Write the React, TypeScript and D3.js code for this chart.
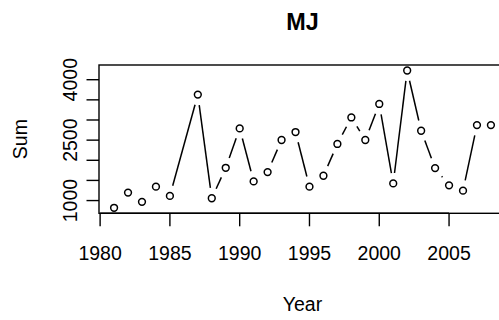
import * as d3 from "d3";
import { useEffect, useRef } from "react";

// yearly sums (no record for 1986)
const years = [1981, 1982, 1983, 1984, 1985, 1987, 1988, 1989, 1990, 1991, 1992, 1993, 1994, 1995, 1996, 1997, 1998, 1999, 2000, 2001, 2002, 2003, 2004, 2005, 2006, 2007, 2008];
const sums = [820, 1197, 968, 1345, 1116, 3630, 1057, 1813, 2792, 1476, 1707, 2504, 2701, 1345, 1616, 2405, 3063, 2504, 3398, 1426, 4229, 2733, 1806, 1377, 1246, 2873, 2873];

const xTicks = [1980, 1985, 1990, 1995, 2000, 2005];
const yTicks = [1000, 1500, 2000, 2500, 3000, 3500, 4000];
// R drops labels that would overlap, only these survive
const yTickLabels = [1000, 2500, 4000];

const title = "MJ";
const xTitle = "Year";
const yTitle = "Sum";

function App() {
    const ref = useRef<SVGSVGElement>(null);

    useEffect(() => {
        const width = 499,
            height = 320;
        const left = 99,
            right = 506,
            top = 65,
            bottom = 213.3;
        const font = "Liberation Sans, Arial, Helvetica, sans-serif";
        const fs = 19.5;

        const svg = d3.select(ref.current);
        svg.selectAll("*").remove();
        svg.attr("width", width).attr("height", height);

        // R style 4% padding on both axes
        const xExt = d3.extent(years) as [number, number];
        const yExt = d3.extent(sums) as [number, number];
        const xPad = (xExt[1] - xExt[0]) * 0.04;
        const yPad = (yExt[1] - yExt[0]) * 0.04;

        const x = d3.scaleLinear().domain([xExt[0] - xPad, xExt[1] + xPad]).range([left, right]);
        const y = d3.scaleLinear().domain([yExt[0] - yPad, yExt[1] + yPad]).range([bottom, top]);

        const data = years.map((yr, i) => ({ px: x(yr), py: y(sums[i]) }));

        // type = "b": segments with a gap around each point
        const gap = 10.5;
        const segs = d3.pairs(data).filter(([a, b]) => Math.hypot(b.px - a.px, b.py - a.py) > 2 * gap).map(([a, b]) => {
            const d = Math.hypot(b.px - a.px, b.py - a.py);
            const ux = (b.px - a.px) / d,
                uy = (b.py - a.py) / d;
            return [a.px + ux * gap, a.py + uy * gap, b.px - ux * gap, b.py - uy * gap];
        });

        svg.append("g")
            .selectAll("line")
            .data(segs)
            .join("line")
            .attr("x1", d => d[0])
            .attr("y1", d => d[1])
            .attr("x2", d => d[2])
            .attr("y2", d => d[3])
            .attr("stroke", "black")
            .attr("stroke-width", 1.5);

        svg.append("g")
            .selectAll("circle")
            .data(data)
            .join("circle")
            .attr("cx", d => d.px)
            .attr("cy", d => d.py)
            .attr("r", 3.4)
            .attr("fill", "none")
            .attr("stroke", "black")
            .attr("stroke-width", 1.5);

        // box
        svg.append("rect")
            .attr("x", left)
            .attr("y", top)
            .attr("width", right - left)
            .attr("height", bottom - top)
            .attr("fill", "none")
            .attr("stroke", "black")
            .attr("stroke-width", 1.4);

        // x axis
        const gx = svg.append("g");
        gx.append("line")
            .attr("x1", x(xTicks[0]))
            .attr("x2", x(xTicks[xTicks.length - 1]))
            .attr("y1", bottom)
            .attr("y2", bottom)
            .attr("stroke", "black")
            .attr("stroke-width", 1.4);
        gx.selectAll("line.tick")
            .data(xTicks)
            .join("line")
            .attr("class", "tick")
            .attr("x1", d => x(d))
            .attr("x2", d => x(d))
            .attr("y1", bottom)
            .attr("y2", bottom + 13)
            .attr("stroke", "black")
            .attr("stroke-width", 1.4);
        gx.selectAll("text")
            .data(xTicks)
            .join("text")
            .attr("x", d => x(d))
            .attr("y", 260)
            .attr("text-anchor", "middle")
            .style("font-family", font)
            .style("font-size", fs + "px")
            .text(d => d);

        // y axis
        const gy = svg.append("g");
        gy.selectAll("line")
            .data(yTicks)
            .join("line")
            .attr("x1", left - 12.5)
            .attr("x2", left)
            .attr("y1", d => y(d))
            .attr("y2", d => y(d))
            .attr("stroke", "black")
            .attr("stroke-width", 1.4);
        gy.selectAll("text")
            .data(yTickLabels)
            .join("text")
            .attr("transform", d => `translate(77, ${y(d)}) rotate(-90)`)
            .attr("text-anchor", "middle")
            .style("font-family", font)
            .style("font-size", fs + "px")
            .text(d => d);

        // titles
        svg.append("text")
            .attr("x", (left + right) / 2)
            .attr("y", 30)
            .attr("text-anchor", "middle")
            .style("font-family", font)
            .style("font-size", "23.4px")
            .style("font-weight", "bold")
            .text(title);

        svg.append("text")
            .attr("x", (left + right) / 2)
            .attr("y", 311)
            .attr("text-anchor", "middle")
            .style("font-family", font)
            .style("font-size", fs + "px")
            .text(xTitle);

        svg.append("text")
            .attr("transform", `translate(27, ${(top + bottom) / 2}) rotate(-90)`)
            .attr("text-anchor", "middle")
            .style("font-family", font)
            .style("font-size", fs + "px")
            .text(yTitle);
    }, []);

    return (
        <svg ref={ref} style={{ position: "absolute", left: 0, top: 0, background: "white" }}></svg>
    );
}

export default App;
